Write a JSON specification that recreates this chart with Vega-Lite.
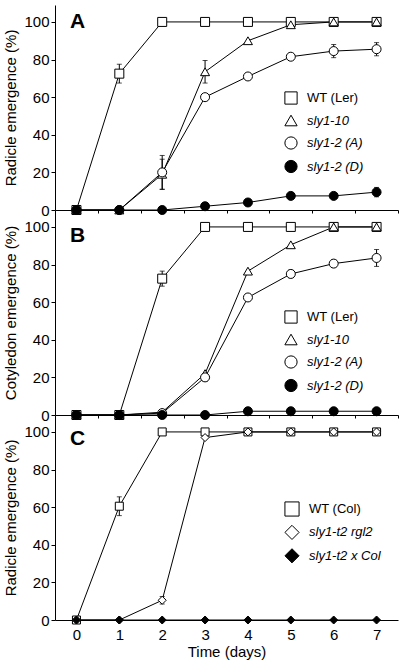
{
  "$schema": "https://vega.github.io/schema/vega-lite/v6.json",
  "padding": {"left": 3, "top": 5, "right": 6, "bottom": 3},
  "bounds": "flush",
  "spacing": 0,
  "config": {
    "font": "Liberation Sans",
    "view": {"stroke": null},
    "axis": {"domainColor": "black", "tickColor": "black", "labelColor": "black", "titleColor": "black", "labelFontSize": 15, "titleFontSize": 15, "titleFontWeight": "normal", "grid": false, "domainWidth": 1, "tickWidth": 1},
    "legend": {"labelColor": "black", "labelFontSize": 13, "orient": "none", "title": null, "padding": 0, "labelOffset": 9, "symbolStrokeWidth": 1,
               "labelFontStyle": {"expr": "indexof(datum.label, 'WT') == 0 ? 'normal' : 'italic'"}}
  },
  "data": {"values": [
    {"panel": "A", "series": "WT (Ler)", "day": 0, "pct": 0},
    {"panel": "A", "series": "WT (Ler)", "day": 1, "pct": 72.5, "err": 5},
    {"panel": "A", "series": "WT (Ler)", "day": 2, "pct": 100},
    {"panel": "A", "series": "WT (Ler)", "day": 3, "pct": 100},
    {"panel": "A", "series": "WT (Ler)", "day": 4, "pct": 100},
    {"panel": "A", "series": "WT (Ler)", "day": 5, "pct": 100},
    {"panel": "A", "series": "WT (Ler)", "day": 6, "pct": 100},
    {"panel": "A", "series": "WT (Ler)", "day": 7, "pct": 100},
    {"panel": "A", "series": "sly1-10", "day": 0, "pct": 0},
    {"panel": "A", "series": "sly1-10", "day": 1, "pct": 0},
    {"panel": "A", "series": "sly1-10", "day": 2, "pct": 19, "err": 8},
    {"panel": "A", "series": "sly1-10", "day": 3, "pct": 73.5, "err": 6},
    {"panel": "A", "series": "sly1-10", "day": 4, "pct": 90},
    {"panel": "A", "series": "sly1-10", "day": 5, "pct": 98.5},
    {"panel": "A", "series": "sly1-10", "day": 6, "pct": 100},
    {"panel": "A", "series": "sly1-10", "day": 7, "pct": 100},
    {"panel": "A", "series": "sly1-2 (A)", "day": 0, "pct": 0},
    {"panel": "A", "series": "sly1-2 (A)", "day": 1, "pct": 0},
    {"panel": "A", "series": "sly1-2 (A)", "day": 2, "pct": 20, "err": 9},
    {"panel": "A", "series": "sly1-2 (A)", "day": 3, "pct": 60},
    {"panel": "A", "series": "sly1-2 (A)", "day": 4, "pct": 71},
    {"panel": "A", "series": "sly1-2 (A)", "day": 5, "pct": 81.5},
    {"panel": "A", "series": "sly1-2 (A)", "day": 6, "pct": 84.5, "err": 3.5},
    {"panel": "A", "series": "sly1-2 (A)", "day": 7, "pct": 85.5, "err": 3.5},
    {"panel": "A", "series": "sly1-2 (D)", "day": 0, "pct": 0},
    {"panel": "A", "series": "sly1-2 (D)", "day": 1, "pct": 0},
    {"panel": "A", "series": "sly1-2 (D)", "day": 2, "pct": 0},
    {"panel": "A", "series": "sly1-2 (D)", "day": 3, "pct": 2},
    {"panel": "A", "series": "sly1-2 (D)", "day": 4, "pct": 4},
    {"panel": "A", "series": "sly1-2 (D)", "day": 5, "pct": 7.5},
    {"panel": "A", "series": "sly1-2 (D)", "day": 6, "pct": 7.5},
    {"panel": "A", "series": "sly1-2 (D)", "day": 7, "pct": 9.5, "err": 2.5},
    {"panel": "B", "series": "WT (Ler)", "day": 0, "pct": 0},
    {"panel": "B", "series": "WT (Ler)", "day": 1, "pct": 0},
    {"panel": "B", "series": "WT (Ler)", "day": 2, "pct": 72.5, "err": 4},
    {"panel": "B", "series": "WT (Ler)", "day": 3, "pct": 100},
    {"panel": "B", "series": "WT (Ler)", "day": 4, "pct": 100},
    {"panel": "B", "series": "WT (Ler)", "day": 5, "pct": 100},
    {"panel": "B", "series": "WT (Ler)", "day": 6, "pct": 100},
    {"panel": "B", "series": "WT (Ler)", "day": 7, "pct": 100},
    {"panel": "B", "series": "sly1-10", "day": 0, "pct": 0},
    {"panel": "B", "series": "sly1-10", "day": 1, "pct": 0},
    {"panel": "B", "series": "sly1-10", "day": 2, "pct": 1.5},
    {"panel": "B", "series": "sly1-10", "day": 3, "pct": 22},
    {"panel": "B", "series": "sly1-10", "day": 4, "pct": 76.5},
    {"panel": "B", "series": "sly1-10", "day": 5, "pct": 90.5},
    {"panel": "B", "series": "sly1-10", "day": 6, "pct": 100},
    {"panel": "B", "series": "sly1-10", "day": 7, "pct": 100},
    {"panel": "B", "series": "sly1-2 (A)", "day": 0, "pct": 0},
    {"panel": "B", "series": "sly1-2 (A)", "day": 1, "pct": 0},
    {"panel": "B", "series": "sly1-2 (A)", "day": 2, "pct": 1},
    {"panel": "B", "series": "sly1-2 (A)", "day": 3, "pct": 20, "err": 2},
    {"panel": "B", "series": "sly1-2 (A)", "day": 4, "pct": 62.5},
    {"panel": "B", "series": "sly1-2 (A)", "day": 5, "pct": 75, "err": 2},
    {"panel": "B", "series": "sly1-2 (A)", "day": 6, "pct": 80.5, "err": 2},
    {"panel": "B", "series": "sly1-2 (A)", "day": 7, "pct": 83.5, "err": 4.5},
    {"panel": "B", "series": "sly1-2 (D)", "day": 0, "pct": 0},
    {"panel": "B", "series": "sly1-2 (D)", "day": 1, "pct": 0},
    {"panel": "B", "series": "sly1-2 (D)", "day": 2, "pct": 0},
    {"panel": "B", "series": "sly1-2 (D)", "day": 3, "pct": 0},
    {"panel": "B", "series": "sly1-2 (D)", "day": 4, "pct": 2},
    {"panel": "B", "series": "sly1-2 (D)", "day": 5, "pct": 2},
    {"panel": "B", "series": "sly1-2 (D)", "day": 6, "pct": 2},
    {"panel": "B", "series": "sly1-2 (D)", "day": 7, "pct": 2},
    {"panel": "C", "series": "WT (Col)", "day": 0, "pct": 0},
    {"panel": "C", "series": "WT (Col)", "day": 1, "pct": 60.5, "err": 5},
    {"panel": "C", "series": "WT (Col)", "day": 2, "pct": 100},
    {"panel": "C", "series": "WT (Col)", "day": 3, "pct": 100},
    {"panel": "C", "series": "WT (Col)", "day": 4, "pct": 100},
    {"panel": "C", "series": "WT (Col)", "day": 5, "pct": 100},
    {"panel": "C", "series": "WT (Col)", "day": 6, "pct": 100},
    {"panel": "C", "series": "WT (Col)", "day": 7, "pct": 100},
    {"panel": "C", "series": "sly1-t2 rgl2", "day": 0, "pct": 0},
    {"panel": "C", "series": "sly1-t2 rgl2", "day": 1, "pct": 0},
    {"panel": "C", "series": "sly1-t2 rgl2", "day": 2, "pct": 10.5, "err": 2},
    {"panel": "C", "series": "sly1-t2 rgl2", "day": 3, "pct": 97},
    {"panel": "C", "series": "sly1-t2 rgl2", "day": 4, "pct": 100},
    {"panel": "C", "series": "sly1-t2 rgl2", "day": 5, "pct": 100},
    {"panel": "C", "series": "sly1-t2 rgl2", "day": 6, "pct": 100},
    {"panel": "C", "series": "sly1-t2 rgl2", "day": 7, "pct": 100},
    {"panel": "C", "series": "sly1-t2 x Col", "day": 0, "pct": 0},
    {"panel": "C", "series": "sly1-t2 x Col", "day": 1, "pct": 0},
    {"panel": "C", "series": "sly1-t2 x Col", "day": 2, "pct": 0},
    {"panel": "C", "series": "sly1-t2 x Col", "day": 3, "pct": 0},
    {"panel": "C", "series": "sly1-t2 x Col", "day": 4, "pct": 0},
    {"panel": "C", "series": "sly1-t2 x Col", "day": 5, "pct": 0},
    {"panel": "C", "series": "sly1-t2 x Col", "day": 6, "pct": 0},
    {"panel": "C", "series": "sly1-t2 x Col", "day": 7, "pct": 0}
  ]},
  "resolve": {"scale": {"shape": "independent", "fill": "independent", "stroke": "independent"}, "legend": {"shape": "independent", "fill": "independent", "stroke": "independent"}},
  "vconcat": [
    {
      "width": 343, "height": 205,
      "title": {"text": "A", "anchor": "start", "frame": "group", "fontSize": 21, "fontWeight": "bold", "color": "black", "offset": 0, "baseline": "alphabetic", "dx": 15, "dy": 44},
      "transform": [{"filter": "datum.panel == 'A'"}],
      "encoding": {
        "x": {"field": "day", "type": "quantitative", "scale": {"domain": [-0.5, 7.5], "nice": false, "zero": false},
              "axis": {"title": null, "values": [0.5, 1.5, 2.5, 3.5, 4.5, 5.5, 6.5, 7.5], "labels": false, "tickSize": 3}},
        "y": {"field": "pct", "type": "quantitative", "scale": {"domain": [0, 109], "nice": false},
              "axis": {"title": "Radicle emergence (%)", "values": [0, 20, 40, 60, 80, 100], "tickSize": 4, "labelPadding": 2, "titlePadding": 5}}
      },
      "layer": [
        {"transform": [{"filter": "datum.err > 0"}], "mark": {"type": "errorbar", "color": "black", "thickness": 1, "ticks": {"size": 5, "thickness": 1, "color": "black"}},
         "encoding": {"yError": {"field": "err"}}},
        {"mark": {"type": "line", "color": "black", "strokeWidth": 1}, "encoding": {"detail": {"field": "series"}}},
        {"mark": {"type": "point", "filled": true, "strokeWidth": 1, "size": 81, "opacity": 1},
         "encoding": {
           "shape": {"field": "series", "type": "nominal", "scale": {"domain": ["WT (Ler)", "sly1-10", "sly1-2 (A)", "sly1-2 (D)"], "range": ["square", "triangle-up", "circle", "circle"]},
                     "legend": {"legendX": 229, "legendY": 86, "symbolSize": 150, "rowPadding": 5.5}},
           "fill": {"field": "series", "type": "nominal", "scale": {"domain": ["WT (Ler)", "sly1-10", "sly1-2 (A)", "sly1-2 (D)"], "range": ["white", "white", "white", "black"]},
                     "legend": {"legendX": 229, "legendY": 86, "symbolSize": 150, "rowPadding": 5.5}},
           "stroke": {"field": "series", "type": "nominal", "scale": {"domain": ["WT (Ler)", "sly1-10", "sly1-2 (A)", "sly1-2 (D)"], "range": ["black", "black", "black", "black"]},
                     "legend": {"legendX": 229, "legendY": 86, "symbolSize": 150, "rowPadding": 5.5}}
         }}
      ]
    },
    {
      "width": 343, "height": 205,
      "title": {"text": "B", "anchor": "start", "frame": "group", "fontSize": 21, "fontWeight": "bold", "color": "black", "offset": 0, "baseline": "alphabetic", "dx": 15, "dy": 53},
      "transform": [{"filter": "datum.panel == 'B'"}],
      "encoding": {
        "x": {"field": "day", "type": "quantitative", "scale": {"domain": [-0.5, 7.5], "nice": false, "zero": false},
              "axis": {"title": null, "values": [0.5, 1.5, 2.5, 3.5, 4.5, 5.5, 6.5, 7.5], "labels": false, "tickSize": 3}},
        "y": {"field": "pct", "type": "quantitative", "scale": {"domain": [0, 109], "nice": false},
              "axis": {"title": "Cotyledon emergence (%)", "values": [0, 20, 40, 60, 80, 100], "tickSize": 4, "labelPadding": 2, "titlePadding": 5}}
      },
      "layer": [
        {"transform": [{"filter": "datum.err > 0"}], "mark": {"type": "errorbar", "color": "black", "thickness": 1, "ticks": {"size": 5, "thickness": 1, "color": "black"}},
         "encoding": {"yError": {"field": "err"}}},
        {"mark": {"type": "line", "color": "black", "strokeWidth": 1}, "encoding": {"detail": {"field": "series"}}},
        {"mark": {"type": "point", "filled": true, "strokeWidth": 1, "size": 81, "opacity": 1},
         "encoding": {
           "shape": {"field": "series", "type": "nominal", "scale": {"domain": ["WT (Ler)", "sly1-10", "sly1-2 (A)", "sly1-2 (D)"], "range": ["square", "triangle-up", "circle", "circle"]},
                     "legend": {"legendX": 229, "legendY": 100, "symbolSize": 150, "rowPadding": 5.5}},
           "fill": {"field": "series", "type": "nominal", "scale": {"domain": ["WT (Ler)", "sly1-10", "sly1-2 (A)", "sly1-2 (D)"], "range": ["white", "white", "white", "black"]},
                     "legend": {"legendX": 229, "legendY": 100, "symbolSize": 150, "rowPadding": 5.5}},
           "stroke": {"field": "series", "type": "nominal", "scale": {"domain": ["WT (Ler)", "sly1-10", "sly1-2 (A)", "sly1-2 (D)"], "range": ["black", "black", "black", "black"]},
                     "legend": {"legendX": 229, "legendY": 100, "symbolSize": 150, "rowPadding": 5.5}}
         }}
      ]
    },
    {
      "width": 343, "height": 205,
      "title": {"text": "C", "anchor": "start", "frame": "group", "fontSize": 21, "fontWeight": "bold", "color": "black", "offset": 0, "baseline": "alphabetic", "dx": 15, "dy": 51},
      "transform": [{"filter": "datum.panel == 'C'"}],
      "encoding": {
        "x": {"field": "day", "type": "quantitative", "scale": {"domain": [-0.5, 7.5], "nice": false, "zero": false},
              "axis": {"title": "Time (days)", "values": [0, 0.5, 1, 1.5, 2, 2.5, 3, 3.5, 4, 4.5, 5, 5.5, 6, 6.5, 7, 7.5], "format": "d",
                       "labelExpr": "datum.value % 1 === 0 ? datum.label : ''", "labelOverlap": false, "labelBound": false,
                       "tickSize": 3, "tickOpacity": {"condition": {"test": "datum.value % 1 === 0", "value": 0}, "value": 1},
                       "labelPadding": 4, "titlePadding": 2}},
        "y": {"field": "pct", "type": "quantitative", "scale": {"domain": [0, 109], "nice": false},
              "axis": {"title": "Radicle emergence (%)", "values": [0, 20, 40, 60, 80, 100], "tickSize": 4, "labelPadding": 2, "titlePadding": 5}}
      },
      "layer": [
        {"transform": [{"filter": "datum.err > 0"}], "mark": {"type": "errorbar", "color": "black", "thickness": 1, "ticks": {"size": 5, "thickness": 1, "color": "black"}},
         "encoding": {"yError": {"field": "err"}}},
        {"mark": {"type": "line", "color": "black", "strokeWidth": 1}, "encoding": {"detail": {"field": "series"}}},
        {"mark": {"type": "point", "filled": true, "strokeWidth": 1, "size": 64, "opacity": 1},
         "encoding": {
           "shape": {"field": "series", "type": "nominal", "scale": {"domain": ["WT (Col)", "sly1-t2 rgl2", "sly1-t2 x Col"], "range": ["square", "diamond", "diamond"]},
                     "legend": {"legendX": 229, "legendY": 86, "symbolSize": 200, "rowPadding": 3.4}},
           "fill": {"field": "series", "type": "nominal", "scale": {"domain": ["WT (Col)", "sly1-t2 rgl2", "sly1-t2 x Col"], "range": ["white", "white", "black"]},
                     "legend": {"legendX": 229, "legendY": 86, "symbolSize": 200, "rowPadding": 3.4}},
           "stroke": {"field": "series", "type": "nominal", "scale": {"domain": ["WT (Col)", "sly1-t2 rgl2", "sly1-t2 x Col"], "range": ["black", "black", "black"]},
                     "legend": {"legendX": 229, "legendY": 86, "symbolSize": 200, "rowPadding": 3.4}}
         }}
      ]
    }
  ]
}
